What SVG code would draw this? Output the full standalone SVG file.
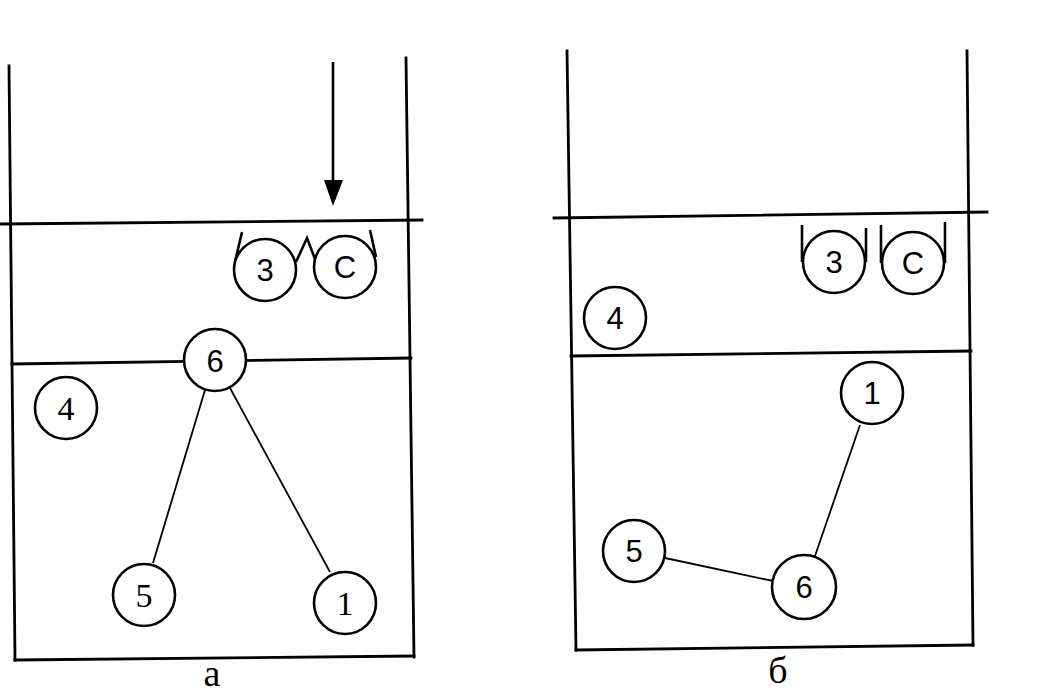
<svg xmlns="http://www.w3.org/2000/svg" width="1042" height="694" viewBox="0 0 1042 694">
<style>
.frame{stroke:#000;stroke-width:2.8;fill:none;stroke-linecap:square}
.conn{stroke:#000;stroke-width:1.8;fill:none}
.cup{stroke:#000;stroke-width:2.6;fill:none;stroke-linejoin:miter}
.node circle{fill:#fff;stroke:#000;stroke-width:2.6}
.node text{font-family:"Liberation Sans",Arial,sans-serif;font-size:31px;text-anchor:middle;fill:#000}
.node text.serif{font-family:"Liberation Serif","Times New Roman",serif;font-size:34px}
.cap{font-family:"Liberation Serif","Times New Roman",serif;font-size:38px;text-anchor:middle;fill:#000}
</style>
<rect width="1042" height="694" fill="#fff"/>

<g id="court-a">
<line class="frame" x1="9" y1="66" x2="15" y2="660"/>
<line class="frame" x1="406" y1="58" x2="414" y2="657"/>
<line class="frame" x1="15" y1="660" x2="414" y2="656"/>
<line class="frame" x1="0" y1="224" x2="422" y2="220"/>
<line class="frame" x1="12" y1="364" x2="411" y2="358"/>
</g>
<g id="court-b">
<line class="frame" x1="567" y1="51" x2="576" y2="650"/>
<line class="frame" x1="967" y1="51" x2="973" y2="645"/>
<line class="frame" x1="576" y1="650" x2="973" y2="645"/>
<line class="frame" x1="554" y1="218" x2="987" y2="212"/>
<line class="frame" x1="571" y1="356" x2="971" y2="351"/>
</g>

<g id="arrow-a">
<line x1="333" y1="62" x2="333" y2="185" stroke="#000" stroke-width="2.6"/>
<polygon points="324,180 343,180 333,206" fill="#000"/>
</g>

<g id="connectors">
<line class="conn" x1="205" y1="390" x2="153" y2="563"/>
<line class="conn" x1="230" y1="388" x2="330" y2="572"/>
<line class="conn" x1="860" y1="425" x2="815" y2="556"/>
<line class="conn" x1="665" y1="558" x2="773" y2="581"/>
</g>

<g id="cups-a">
<path class="cup" d="M242,232 L235,262"/>
<path class="cup" d="M296,262 L307,238 L315,259"/>
<path class="cup" d="M370,230 L376,257"/>
</g>
<g id="cups-b">
<path class="cup" d="M802,225 L802,262"/>
<path class="cup" d="M866,228 L866,262"/>
<path class="cup" d="M881,225 L881,263"/>
<path class="cup" d="M945,222 L945,263"/>
</g>

<g id="a-3" class="node"><circle cx="265" cy="270" r="31"/><text x="265" y="281">3</text></g>
<g id="a-C" class="node"><circle cx="345" cy="267" r="31"/><text x="345" y="278">C</text></g>
<g id="a-6" class="node"><circle cx="215" cy="360" r="31"/><text x="215" y="372">6</text></g>
<g id="a-4" class="node"><circle cx="66" cy="408" r="31"/><text class="serif" x="66" y="420">4</text></g>
<g id="a-5" class="node"><circle cx="144" cy="595" r="31"/><text class="serif" x="144" y="607">5</text></g>
<g id="a-1" class="node"><circle cx="345" cy="603" r="31"/><text class="serif" x="345" y="615">1</text></g>

<g id="b-3" class="node"><circle cx="834" cy="262" r="31"/><text x="834" y="273">3</text></g>
<g id="b-C" class="node"><circle cx="913" cy="263" r="31"/><text x="913" y="274">C</text></g>
<g id="b-4" class="node"><circle cx="615" cy="318" r="31"/><text x="615" y="329">4</text></g>
<g id="b-1" class="node"><circle cx="872" cy="393" r="31"/><text x="872" y="404">1</text></g>
<g id="b-5" class="node"><circle cx="634" cy="551" r="31"/><text x="634" y="562">5</text></g>
<g id="b-6" class="node"><circle cx="804" cy="587" r="32"/><text x="804" y="598">6</text></g>

<text class="cap" x="212" y="686">а</text>
<text class="cap" x="778" y="683">б</text>
</svg>
